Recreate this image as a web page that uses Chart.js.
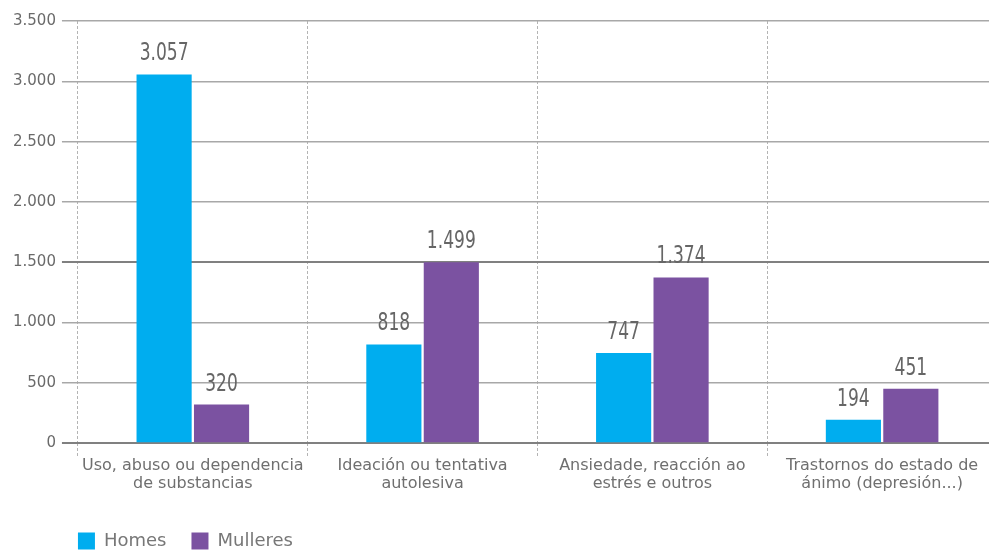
<!DOCTYPE html>
<html>
<head>
<meta charset="utf-8">
<script src="https://cdn.jsdelivr.net/npm/chart.js@4/dist/chart.umd.min.js"></script>
<style>
  html, body { margin: 0; padding: 0; background: #fff; overflow: hidden; }
  canvas { display: block; }
</style>
</head>
<body>
<canvas id="chart" width="1000" height="561"></canvas>
<script>
// Categories (two-line axis labels)
const categories = [
  ['Uso, abuso ou dependencia', 'de substancias'],
  ['Ideación ou tentativa', 'autolesiva'],
  ['Ansiedade, reacción ao', 'estrés e outros'],
  ['Trastornos do estado de', 'ánimo (depresión...)']
];
const seriesNames = ['Homes', 'Mulleres'];
const homes = [3057, 818, 747, 194];
const mulleres = [320, 1499, 1374, 451];
const yTicks = [0, 500, 1000, 1500, 2000, 2500, 3000, 3500];

const colors = { homes: '#00adef', mulleres: '#7b52a1' };

// Thousands separator with a dot
function fmt(v) {
  return String(Math.round(v)).replace(/\B(?=(\d{3})+(?!\d))/g, '.');
}

// Value labels above each bar, in a narrow face
const valueLabels = {
  id: 'valueLabels',
  afterDatasetsDraw(chart) {
    const ctx = chart.ctx;
    chart.data.datasets.forEach((ds, di) => {
      chart.getDatasetMeta(di).data.forEach((el, i) => {
        ctx.save();
        ctx.font = "25px 'DejaVu Sans Condensed', sans-serif";
        ctx.fillStyle = '#666';
        ctx.textAlign = 'center';
        ctx.textBaseline = 'alphabetic';
        ctx.translate(el.x, el.y - 14);
        ctx.scale(0.76, 1);
        ctx.fillText(fmt(ds.data[i]), 0, 0);
        ctx.restore();
      });
    });
  }
};

// Line the legend up with the left edge of the plot area
const legendAlign = {
  id: 'legendAlign',
  afterLayout(chart) {
    const lg = chart.legend;
    if (!lg) return;
    const dx = chart.chartArea.left - lg.left - lg.options.labels.padding;
    lg.left += dx;
    lg.right += dx;
  }
};

new Chart(document.getElementById('chart'), {
  type: 'bar',
  data: {
    labels: categories,
    datasets: [
      { label: seriesNames[0], data: homes, backgroundColor: colors.homes },
      { label: seriesNames[1], data: mulleres, backgroundColor: colors.mulleres }
    ]
  },
  options: {
    responsive: false,
    animation: false,
    devicePixelRatio: 1,
    layout: { padding: { top: 21, left: 7, right: 3, bottom: 1 } },
    datasets: { bar: { categoryPercentage: 0.5, barPercentage: 0.96 } },
    plugins: {
      tooltip: { enabled: false },
      legend: {
        position: 'bottom',
        align: 'start',
        labels: {
          boxWidth: 17,
          boxHeight: 17,
          padding: 25,
          color: '#777',
          font: { family: "'DejaVu Sans', sans-serif", size: 18 }
        }
      }
    },
    scales: {
      x: {
        grid: {
          offset: true,
          color: '#b4b4b4',
          lineWidth: 1,
          tickLength: 14,
          tickColor: '#b4b4b4',
          tickBorderDash: [3, 2]
        },
        border: { display: false, dash: [3, 2] },
        ticks: {
          padding: 0,
          color: '#6f6f6f',
          font: { family: "'DejaVu Sans', sans-serif", size: 16, lineHeight: 1.12 }
        },
        afterFit(axis) { axis.height += 14; }
      },
      y: {
        min: 0,
        max: 3500,
        afterBuildTicks(axis) { axis.ticks = yTicks.map(v => ({ value: v })); },
        grid: {
          color: ctx => (ctx.tick && (ctx.tick.value === 0 || ctx.tick.value === 1500)) ? '#808080' : '#a8a8a8',
          lineWidth: ctx => (ctx.tick && (ctx.tick.value === 0 || ctx.tick.value === 1500)) ? 2 : 1.5,
          tickLength: 16
        },
        border: { display: false },
        ticks: {
          padding: 6,
          color: '#6a6a6a',
          font: { family: "'DejaVu Sans', sans-serif", size: 15 },
          callback: v => fmt(v)
        }
      }
    }
  },
  plugins: [valueLabels, legendAlign]
});
</script>
</body>
</html>
